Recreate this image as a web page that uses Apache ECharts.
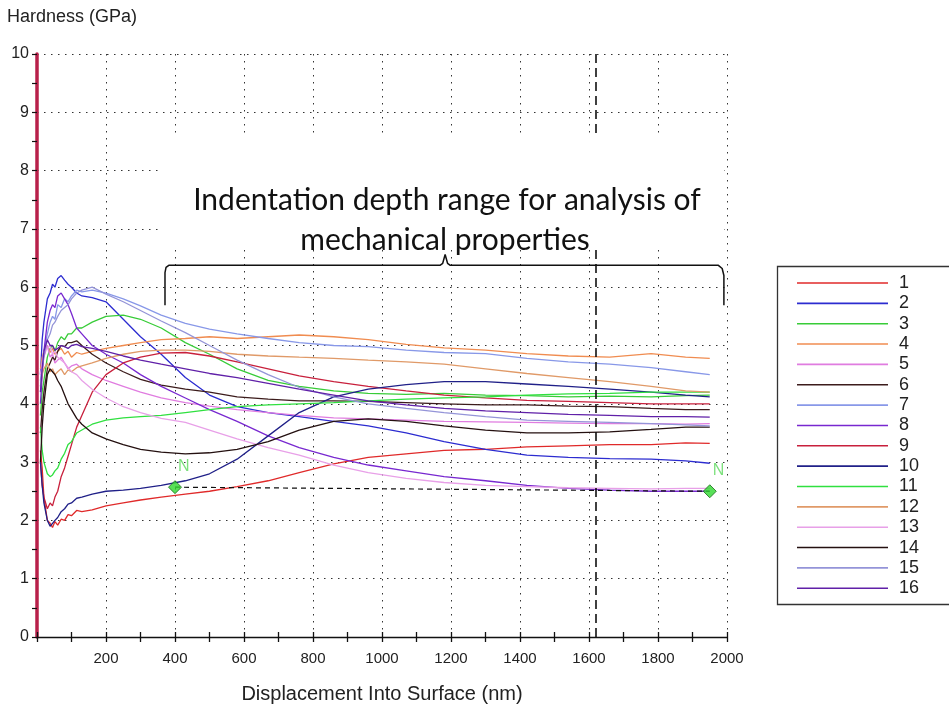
<!DOCTYPE html>
<html><head><meta charset="utf-8">
<script src="https://cdn.jsdelivr.net/npm/echarts@6/dist/echarts.min.js"></script>
<style>html,body{margin:0;padding:0;background:#fff}#c{width:949px;height:711px}</style>
</head><body><div id="c"></div>
<script>
// ---- data ----
const depth = [10,15,20,30,38,45,52,60,70,80,90,100,115,130,160,200,250,300,360,430,500,580,670,760,860,960,1070,1180,1300,1420,1540,1660,1780,1880,1950];
const seriesNames = ['1','2','3','4','5','6','7','8','9','10','11','12','13','14','15','16'];
const seriesColors = ['#e02a2a','#2c2cd0','#38cc38','#f08c50','#e07ce0','#3c1c1c','#8898e8','#7828d0','#c8203c','#202088','#30e040','#e09a68','#e8a0e8','#241010','#9494d8','#6020a8'];
const h1  = [3.2,2.9,2.4,2.0,1.95,1.88,1.98,1.92,2.02,2.0,2.1,2.08,2.17,2.15, 2.18,2.25,2.3,2.35,2.4,2.45,2.5,2.58,2.68,2.82,2.97,3.08,3.14,3.2,3.22,3.26,3.28,3.3,3.3,3.33,3.32];
const h2  = [4.5,5.1,5.4,5.8,5.9,6.05,6.0,6.15,6.2,6.12,6.05,6.0,5.9,5.85, 5.82,5.75,5.45,5.15,4.85,4.45,4.15,3.95,3.85,3.78,3.7,3.62,3.5,3.35,3.22,3.12,3.08,3.06,3.05,3.02,2.98];
const h3  = [3.8,4.2,4.4,4.8,4.95,5.0,4.9,5.05,5.15,5.1,5.2,5.2,5.3,5.3, 5.4,5.5,5.52,5.45,5.3,5.05,4.85,4.6,4.4,4.3,4.22,4.18,4.16,4.18,4.15,4.14,4.12,4.13,4.12,4.14,4.15];
const h4  = [4.6,4.8,4.9,5.0,4.88,4.95,4.85,4.9,4.95,4.85,4.9,4.8,4.88,4.85, 4.9,4.95,5.0,5.05,5.1,5.12,5.15,5.12,5.15,5.18,5.15,5.1,5.02,4.96,4.92,4.86,4.82,4.8,4.86,4.8,4.78];
const h5  = [4.2,4.6,4.8,5.0,4.8,4.85,4.7,4.75,4.8,4.7,4.6,4.65,4.68,4.6, 4.5,4.4,4.3,4.2,4.1,4.02,3.96,3.9,3.85,3.8,3.76,3.74,3.72,3.7,3.69,3.68,3.67,3.66,3.66,3.65,3.66];
const h6  = [3.5,3.9,4.2,4.6,4.7,4.8,4.75,4.9,5.0,4.98,5.05,5.05,5.08,5.0, 4.85,4.7,4.55,4.42,4.32,4.25,4.2,4.12,4.08,4.05,4.05,4.04,4.02,4.0,3.98,3.98,3.96,3.95,3.92,3.9,3.9];
const h7  = [4.4,4.7,4.9,5.2,5.4,5.5,5.45,5.7,5.65,5.8,5.75,5.85,5.95,5.92, 5.95,5.9,5.8,5.68,5.52,5.38,5.28,5.2,5.12,5.05,5.0,4.98,4.92,4.88,4.86,4.78,4.72,4.68,4.62,4.55,4.5];
const h8  = [4.0,4.5,4.9,5.4,5.6,5.7,5.65,5.85,5.9,5.8,5.7,5.55,5.3,5.2, 5.0,4.85,4.7,4.5,4.3,4.1,3.9,3.7,3.45,3.25,3.08,2.95,2.85,2.75,2.68,2.6,2.55,2.52,2.5,2.5,2.5];
const h9  = [3.0,2.6,2.4,2.2,2.3,2.25,2.4,2.5,2.75,2.9,3.1,3.3,3.6,3.8, 4.2,4.5,4.7,4.8,4.87,4.88,4.82,4.72,4.6,4.48,4.38,4.3,4.22,4.15,4.1,4.06,4.04,4.02,4.0,4.0,4.0];
const h10 = [3.0,2.6,2.3,2.0,1.9,1.95,2.0,2.05,2.15,2.2,2.28,2.3,2.38,2.4, 2.45,2.5,2.52,2.55,2.6,2.68,2.8,3.05,3.45,3.85,4.12,4.25,4.33,4.38,4.38,4.34,4.3,4.25,4.2,4.15,4.12];
const h11 = [3.6,3.2,3.0,2.8,2.75,2.78,2.85,2.9,3.05,3.15,3.3,3.35,3.5,3.55, 3.65,3.72,3.76,3.78,3.8,3.85,3.9,3.95,3.98,4.0,4.02,4.05,4.08,4.1,4.12,4.15,4.17,4.18,4.2,4.2,4.2];
const h12 = [4.3,4.5,4.6,4.7,4.55,4.6,4.5,4.55,4.6,4.5,4.58,4.55,4.62,4.65, 4.7,4.78,4.85,4.9,4.92,4.92,4.9,4.85,4.82,4.8,4.78,4.75,4.72,4.68,4.6,4.52,4.45,4.38,4.3,4.22,4.2];
const h13 = [4.5,4.7,4.9,4.95,5.0,4.85,4.9,4.8,4.75,4.7,4.62,4.55,4.5,4.4, 4.25,4.1,3.95,3.85,3.75,3.68,3.55,3.4,3.25,3.12,2.95,2.82,2.72,2.65,2.6,2.58,2.56,2.55,2.54,2.55,2.55];
const h14 = [3.0,3.6,4.0,4.5,4.6,4.55,4.5,4.4,4.3,4.15,4.0,3.9,3.75,3.65, 3.5,3.4,3.3,3.22,3.17,3.14,3.16,3.22,3.35,3.55,3.7,3.74,3.7,3.62,3.55,3.5,3.5,3.52,3.56,3.6,3.6];
const h15 = [4.3,4.6,4.8,5.1,5.2,5.35,5.4,5.5,5.6,5.65,5.7,5.8,5.9,5.95, 6.0,5.88,5.75,5.6,5.42,5.22,5.0,4.75,4.5,4.28,4.12,4.0,3.92,3.85,3.78,3.72,3.7,3.68,3.66,3.64,3.62];
const h16 = [4.2,4.6,4.9,5.1,5.0,5.0,4.92,4.95,5.0,4.98,4.95,5.0,5.02,4.98, 4.95,4.9,4.82,4.75,4.68,4.6,4.52,4.45,4.35,4.25,4.15,4.05,3.98,3.92,3.88,3.85,3.82,3.8,3.78,3.78,3.77];
const hardness = [h1,h2,h3,h4,h5,h6,h7,h8,h9,h10,h11,h12,h13,h14,h15,h16];
// analysis markers (N) and connecting dashed line
const markerX = [400, 1950];
const markerY = [2.57, 2.5];
// vertical dashed reference line position
const refLineX = 1620;
// brace annotation outline in data units
const braceX = [371,371,374,382,1168,1176,1183,1190,1198,1975,1986,1991,1991];
const braceY = [5.69,6.25,6.34,6.375,6.375,6.41,6.56,6.41,6.375,6.375,6.32,6.2,5.69];
const xTicks = {min:0, max:2000, interval:200};
const yTicks = {min:0, max:10, interval:1};

const chart = echarts.init(document.getElementById('c'), null, {renderer:'canvas'});
const FONT = 'Liberation Sans';
const series = hardness.map((h, i) => ({
  name: seriesNames[i], type: 'line', symbol: 'none', showSymbol: false,
  data: depth.map((d, j) => [d, h[j]]),
  lineStyle: {color: seriesColors[i], width: 1.3},
  itemStyle: {color: seriesColors[i]},
  z: 3, animation: false, silent: true
}));
series.push({
  name: 'brace', type: 'line', symbol: 'none', silent: true, z: 200,
  data: braceX.map((x, i) => [x, braceY[i]]),
  lineStyle: {color: '#111', width: 1.5}, animation: false,
  markLine: {
    silent: true, symbol: 'none', animation: false,
    lineStyle: {color: '#111', type: [9, 5], width: 1.6},
    label: {show: false},
    data: [{xAxis: refLineX}]
  }
});
series.push({
  name: 'range', type: 'line', symbol: 'none', silent: true, z: 4,
  data: markerX.map((x, i) => [x, markerY[i]]),
  lineStyle: {color: '#111', type: [5, 4], width: 1.2}, animation: false
});
series.push({
  name: 'markers', type: 'scatter', symbol: 'diamond', symbolSize: 13, z: 10,
  data: markerX.map((x, i) => [x, markerY[i]]),
  itemStyle: {color: '#2ed82e', borderColor: '#1a6a1a', borderWidth: 1},
  label: {show: true, formatter: 'N', position: [10, -22], color: '#5cd85c', fontSize: 16, fontFamily: FONT},
  animation: false, silent: true
});

const splitStyle = {show: true, lineStyle: {color: '#333', type: [1.5, 5.5], width: 1}};
chart.setOption({
  backgroundColor: '#fff',
  animation: false,
  grid: {left: 37, right: 222, top: 54, bottom: 74, containLabel: false},
  xAxis: [{
    type: 'value', min: xTicks.min, max: xTicks.max, interval: xTicks.interval,
    name: 'Displacement Into Surface (nm)', nameLocation: 'middle', nameGap: 47,
    nameTextStyle: {fontFamily: FONT, fontSize: 20, color: '#222'},
    axisLine: {show: true, onZero: false, lineStyle: {color: '#111', width: 1.3}},
    axisTick: {show: true, length: 5, lineStyle: {color: '#111', width: 1.3}},
    minorTick: {show: true, splitNumber: 2, length: 5, lineStyle: {color: '#111', width: 1.3}},
    axisLabel: {showMinLabel: false, fontFamily: FONT, fontSize: 15, color: '#222', margin: 14,
                formatter: v => String(v)},
    splitLine: splitStyle
  }, {
    type: 'value', min: xTicks.min, max: xTicks.max, interval: xTicks.interval, position: 'bottom', gridIndex: 0,
    axisLine: {show: false}, axisLabel: {show: false}, splitLine: {show: false},
    axisTick: {show: true, inside: true, length: 5, lineStyle: {color: '#111', width: 1.3}},
    minorTick: {show: true, splitNumber: 2, length: 5, lineStyle: {color: '#111', width: 1.3}}
  }],
  yAxis: {
    type: 'value', min: yTicks.min, max: yTicks.max, interval: yTicks.interval,
    name: 'Hardness (GPa)', nameLocation: 'end', nameGap: 28,
    nameTextStyle: {fontFamily: FONT, fontSize: 18, color: '#222', align: 'left', padding: [0, 0, 0, -30]},
    axisLine: {show: true, onZero: false, lineStyle: {color: '#b8204a', width: 3.5}},
    axisTick: {show: true, length: 5, lineStyle: {color: '#111', width: 1.2}},
    minorTick: {show: true, splitNumber: 2, length: 5, lineStyle: {color: '#111', width: 1.2}},
    axisLabel: {fontFamily: FONT, fontSize: 16, color: '#222', margin: 8},
    splitLine: splitStyle
  },
  legend: {
    data: seriesNames, orient: 'vertical', left: 777, top: 266,
    itemWidth: 91, itemHeight: 1.6, itemGap: 0.35, icon: 'rect',
    padding: [7, 0, 7, 20],
    selectedMode: false,
    textStyle: {fontFamily: FONT, fontSize: 18, lineHeight: 20, color: '#222', padding: [0, 0, 0, 6]}
  },
  graphic: [{
    type: 'rect', z: 100, silent: true,
    shape: {x: 158, y: 135, width: 566, height: 113},
    style: {fill: '#fff'}
  }, {
    type: 'rect', z: 50, silent: true,
    shape: {x: 777.5, y: 266.5, width: 300, height: 338},
    style: {fill: 'none', stroke: '#333', lineWidth: 1.3}
  }, {
    type: 'text', z: 101, silent: true,
    style: {text: 'Indentation depth range for analysis of', x: 447, y: 200, align: 'center', verticalAlign: 'middle',
            font: '30px Lato', fill: '#111'}
  }, {
    type: 'text', z: 101, silent: true,
    style: {text: 'mechanical properties', x: 445, y: 240, align: 'center', verticalAlign: 'middle',
            font: '30px Lato', fill: '#111'}
  }],
  series: series
});
</script></body></html>
